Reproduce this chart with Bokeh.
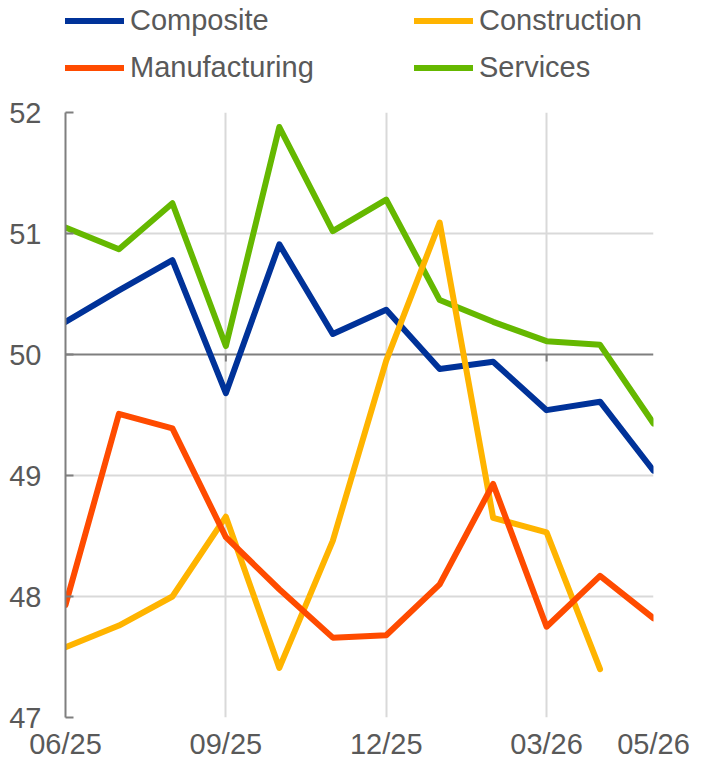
from bokeh.plotting import figure
from bokeh.layouts import column
from bokeh.models import Range1d, FixedTicker, Legend, LegendItem
from bokeh.embed import file_html
from bokeh.resources import INLINE
import numpy as np

months = ["06/25", "07/25", "08/25", "09/25", "10/25", "11/25",
          "12/25", "01/26", "02/26", "03/26", "04/26", "05/26"]
composite = [50.27, 50.53, 50.78, 49.68, 50.91, 50.17, 50.37, 49.88, 49.94, 49.54, 49.61, 49.04]
services = [51.05, 50.87, 51.25, 50.07, 51.88, 51.02, 51.28, 50.45, 50.27, 50.11, 50.08, 49.43]
construction = [47.58, 47.76, 48.00, 48.66, 47.41, 48.46, 49.95, 51.09, 48.65, 48.53, 47.40, np.nan]
manufacturing = [47.93, 49.51, 49.39, 48.49, 48.06, 47.66, 47.68, 48.10, 48.93, 47.75, 48.17, 47.82]
x_tick_idx = [0, 3, 6, 9, 11]
y_ticks = [47, 48, 49, 50, 51, 52]

FONT = "Liberation Sans"
TXT = "#595959"
FS = "29px"

x = list(range(len(months)))

p = figure(width=711, height=675, output_backend="svg", toolbar_location=None,
           x_range=Range1d(0, len(months) - 1), y_range=Range1d(47, 52),
           min_border_left=65, min_border_right=58, min_border_top=20, min_border_bottom=50)
p.outline_line_color = None

# axes
p.xaxis.ticker = FixedTicker(ticks=x_tick_idx)
p.xaxis.major_label_overrides = {i: months[i] for i in x_tick_idx}
p.xaxis.axis_line_color = None
p.xaxis.major_tick_line_color = None
p.xaxis.minor_tick_line_color = None
p.xaxis.major_tick_in = 0
p.xaxis.major_tick_out = 0
p.xaxis.major_label_standoff = 10
p.yaxis.ticker = FixedTicker(ticks=y_ticks)
p.yaxis.axis_line_color = "#7f7f7f"
p.yaxis.axis_line_width = 2
p.yaxis.major_tick_line_color = "#7f7f7f"
p.yaxis.major_tick_line_width = 2
p.yaxis.major_tick_in = 8
p.yaxis.major_tick_out = 0
p.yaxis.minor_tick_line_color = None
p.yaxis.major_label_standoff = 24
for ax in (p.xaxis, p.yaxis):
    ax.major_label_text_font = FONT
    ax.major_label_text_font_size = FS
    ax.major_label_text_color = TXT

p.xgrid.ticker = FixedTicker(ticks=x_tick_idx)
p.ygrid.ticker = FixedTicker(ticks=[t for t in y_ticks if t != 50])
for g in (p.xgrid, p.ygrid):
    g.grid_line_color = "#d9d9d9"
    g.grid_line_width = 2

# 50 reference line acting as x axis
p.line(x=[0, len(months) - 1], y=[50, 50], line_color="#7f7f7f", line_width=2)
tick_len = 7 / 121.0
tx = x_tick_idx[1:-1]
p.segment(x0=tx, y0=[50] * len(tx), x1=tx, y1=[50 - tick_len] * len(tx),
          line_color="#7f7f7f", line_width=2)

series = [
    ("Composite", composite, "#003299"),
    ("Services", services, "#65B800"),
    ("Construction", construction, "#FFB400"),
    ("Manufacturing", manufacturing, "#FF4B00"),
]
colors = {}
for name, vals, col in series:
    p.line(x=x, y=vals, line_color=col, line_width=6, line_join="round", line_cap="round")
    colors[name] = col

# legend strip above the chart (its frame is aligned with the chart frame)
lg = figure(width=711, height=92, output_backend="svg", toolbar_location=None,
            x_range=Range1d(0, 1), y_range=Range1d(0, 1),
            x_axis_location=None, y_axis_location=None,
            min_border_left=65, min_border_right=0, min_border_top=0, min_border_bottom=0)
lg.outline_line_color = None
lg.xgrid.visible = False
lg.ygrid.visible = False
order = ["Composite", "Manufacturing", "Construction", "Services"]
items = []
for n in order:
    r = lg.line(x=[np.nan], y=[np.nan], line_color=colors[n], line_width=6, line_cap="round")
    items.append(LegendItem(label=n, renderers=[r]))
legend = Legend(items=items, orientation="vertical", nrows=2, location=(0, 6.5),
                glyph_width=59, glyph_height=37, label_height=37, label_width=274,
                label_standoff=6, spacing=10, padding=0, margin=0,
                border_line_alpha=0, background_fill_alpha=0,
                label_text_font=FONT, label_text_font_size=FS, label_text_color=TXT)
lg.add_layout(legend, "center")

layout = column(lg, p, spacing=0)
open("out.html", "w").write(file_html(layout, INLINE))
